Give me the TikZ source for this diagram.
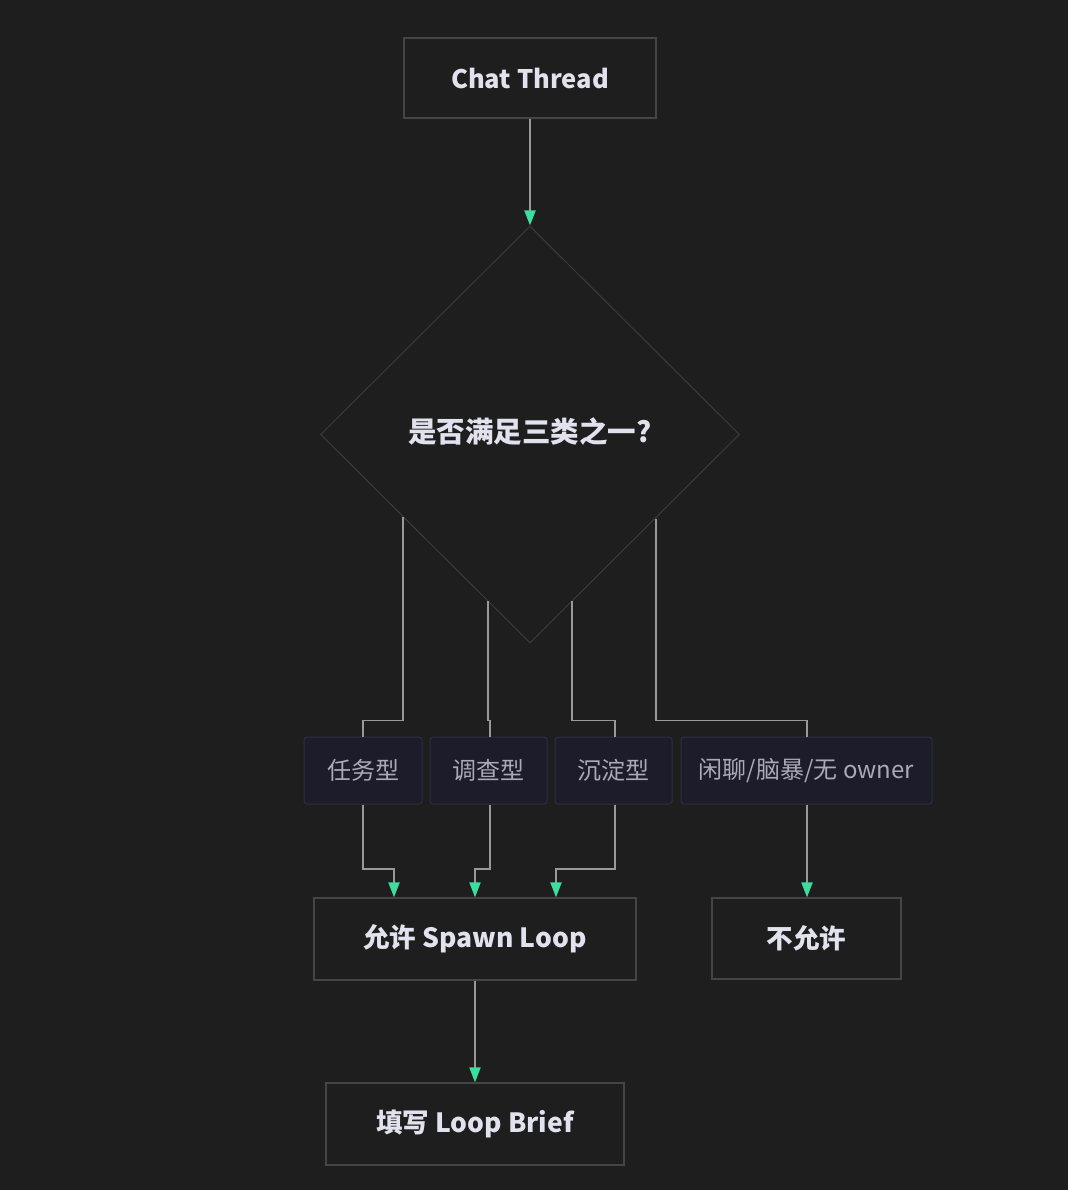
\documentclass[tikz,border=0pt]{standalone}
\usepackage{fontspec}
\newfontfamily\cjk{Noto Sans CJK SC}
\usetikzlibrary{shapes.geometric,arrows.meta,calc}
\definecolor{bg}{HTML}{1E1E1E}
\definecolor{boxfill}{HTML}{1E1E1E}
\definecolor{boxline}{HTML}{454545}
\definecolor{tagfill}{HTML}{1C1C2A}
\definecolor{tagline}{HTML}{2E2E40}
\definecolor{wire}{HTML}{999999}
\definecolor{tipgreen}{HTML}{3DDC9F}
\definecolor{maintext}{HTML}{E2E2EE}
\definecolor{tagtext}{HTML}{A9A9B8}
\begin{document}
\begin{tikzpicture}[x=1pt,y=-1pt,
  mainbox/.style={draw=boxline,line width=1.2pt,fill=boxfill,inner sep=0pt,
    text=maintext,font=\cjk\bfseries\fontsize{26.5}{30}\selectfont},
  tagbox/.style={draw=tagline,line width=1pt,fill=tagfill,rounded corners=3pt,inner sep=0pt,
    minimum height=67pt,text=tagtext,font=\cjk\fontsize{24}{28}\selectfont},
  wireln/.style={draw=wire,line width=1.9pt},
  arr/.style={wireln,-{Triangle[width=11pt,length=15pt,fill=tipgreen,color=tipgreen]}}]
\fill[bg] (0,0) rectangle (1068,1190);
\useasboundingbox (0,0) rectangle (1068,1190);

\node[mainbox,minimum width=252pt,minimum height=80pt,font=\cjk\bfseries\fontsize{25.5}{30}\selectfont] (ct) at (530,78) {Chat Thread};
\node[draw=boxline!85!black,line width=1pt,diamond,minimum width=419pt,minimum height=417pt,inner sep=0pt] (d) at (530,434.5) {};
\node[text=maintext,font=\cjk\bfseries\fontsize{28.5}{32}\selectfont] (dt) at (530,432) {是否满足三类之一?};

\node[tagbox,minimum width=118pt] (t1) at (363,770.5) {任务型};
\node[tagbox,minimum width=117pt] (t2) at (488.5,770.5) {调查型};
\node[tagbox,minimum width=117pt] (t3) at (613.5,770.5) {沉淀型};
\node[tagbox,minimum width=251pt] (t4) at (806.5,770.5) {闲聊/脑暴/无 owner};

\node[mainbox,minimum width=322pt,minimum height=82pt] (al) at (475,939) {允许 Spawn Loop};
\node[mainbox,minimum width=189pt,minimum height=81pt] (na) at (806.5,938.5) {不允许};
\node[mainbox,minimum width=298pt,minimum height=82pt] (lb) at (475,1124) {填写 Loop Brief};

\coordinate (p1) at ($(d.west)!0.397!(d.south)$);
\coordinate (p2) at ($(d.west)!0.799!(d.south)$);
\coordinate (p3) at ($(d.east)!0.799!(d.south)$);
\coordinate (p4) at ($(d.east)!0.402!(d.south)$);

\draw[arr] (ct.south) -- (d.north);

\draw[wireln] (p1) |- ($(t1.north)+(0,-16)$) -- (t1.north);
\draw[wireln] (p2) |- ($(t2.north)+(1.5,-16)$) -- ($(t2.north)+(1.5,0)$);
\draw[wireln] (p3) |- ($(t3.north)+(1.5,-16)$) -- ($(t3.north)+(1.5,0)$);
\draw[wireln] (p4) |- ($(t4.north)+(0.5,-16)$) -- ($(t4.north)+(0.5,0)$);

\draw[arr] (t1.south) |- ($(al.north)+(-81,-28)$) -- ($(al.north)+(-81,0)$);
\draw[arr] ($(t2.south)+(1.5,0)$) |- ($(al.north)+(0,-28)$) -- (al.north);
\draw[arr] ($(t3.south)+(1.5,0)$) |- ($(al.north)+(81,-28)$) -- ($(al.north)+(81,0)$);
\draw[arr] ($(t4.south)+(0.5,0)$) -- ($(na.north)+(0.5,0)$);

\draw[arr] (al.south) -- (lb.north);
\end{tikzpicture}
\end{document}
